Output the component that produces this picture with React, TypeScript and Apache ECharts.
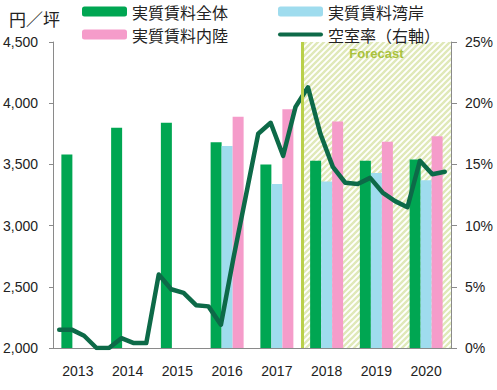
import React, { useEffect, useRef } from "react";
import * as echarts from "echarts";

const years = ["2013", "2014", "2015", "2016", "2017", "2018", "2019", "2020"];
const quarters = [
  "2013Q1","2013Q2","2013Q3","2013Q4","2014Q1","2014Q2","2014Q3","2014Q4",
  "2015Q1","2015Q2","2015Q3","2015Q4","2016Q1","2016Q2","2016Q3","2016Q4",
  "2017Q1","2017Q2","2017Q3","2017Q4","2018Q1","2018Q2","2018Q3","2018Q4",
  "2019Q1","2019Q2","2019Q3","2019Q4","2020Q1","2020Q2","2020Q3","2020Q4",
];
const rentAll = [3580, 3800, 3840, 3680, 3500, 3530, 3530, 3540];
const rentBay = [null, null, null, 3650, 3340, 3360, 3430, 3370];
const rentInland = [null, null, null, 3890, 3950, 3850, 3685, 3730];
const vacancy = [
  1.5, 1.5, 1.0, 0, 0, 0.8, 0.4, 0.4,
  6.0, 4.8, 4.5, 3.5, 3.4, 1.9, 7.3, 12.4,
  17.5, 18.4, 15.7, 19.7, 21.3, 17.5, 14.8, 13.5,
  13.4, 13.9, 12.7, 12.0, 11.5, 15.3, 14.2, 14.4,
];
const forecastStart = 5; // index of 2018
const forecastEnd = 8;

const NAME_ALL = "実質賃料全体";
const NAME_BAY = "実質賃料湾岸";
const NAME_IN = "実質賃料内陸";
const NAME_VAC = "空室率（右軸）";

const NUM_FONT = "'Liberation Sans', sans-serif";
const JP_FONT = "'Noto Sans CJK JP', sans-serif";

function makeHatch() {
  const s = 6;
  const c = document.createElement("canvas");
  c.width = s;
  c.height = s;
  const ctx = c.getContext("2d")!;
  ctx.fillStyle = "#ffffff";
  ctx.fillRect(0, 0, s, s);
  ctx.strokeStyle = "#e0e9b9";
  ctx.lineWidth = 2.4;
  ctx.beginPath();
  ctx.moveTo(-1, s + 1);
  ctx.lineTo(s + 1, -1);
  ctx.moveTo(-1, 1);
  ctx.lineTo(1, -1);
  ctx.moveTo(s - 1, s + 1);
  ctx.lineTo(s + 1, s - 1);
  ctx.stroke();
  return c;
}

export default function App() {
  const ref = useRef<HTMLDivElement>(null);
  useEffect(() => {
    const chart = echarts.init(ref.current!, null, { renderer: "svg" });
    const axisLine = { show: true, lineStyle: { color: "#8a8a8a", width: 1 } };
    const legendText = { fontFamily: JP_FONT, fontSize: 16, color: "#222", lineHeight: 17 };
    chart.setOption({
      animation: false,
      backgroundColor: "#ffffff",
      title: {
        text: "円／坪",
        left: 9,
        top: 10,
        padding: 0,
        textStyle: { fontFamily: JP_FONT, fontSize: 17, fontWeight: "normal", color: "#222" },
      },
      legend: [
        {
          data: [NAME_ALL, NAME_IN],
          orient: "vertical",
          left: 82,
          top: 3,
          padding: 0,
          itemWidth: 45,
          itemHeight: 10,
          itemGap: 6,
          selectedMode: false,
          textStyle: legendText,
        },
        {
          data: [
            { name: NAME_BAY },
            { name: NAME_VAC, icon: "path://M2,0 L43,0 A2,2 0 0 1 43,4 L2,4 A2,2 0 0 1 2,0 Z" },
          ],
          orient: "vertical",
          left: 278,
          top: 3,
          padding: 0,
          itemWidth: 45,
          itemHeight: 10,
          itemGap: 6,
          selectedMode: false,
          textStyle: legendText,
        },
      ],
      grid: { left: 53, right: 46, top: 42, bottom: 42, containLabel: false, outerBoundsMode: "none" },
      xAxis: [
        {
          type: "category",
          data: years,
          axisLine,
          axisTick: { show: false },
          axisLabel: { fontFamily: NUM_FONT, fontSize: 14, color: "#222", margin: 16 },
          splitLine: { show: false },
        },
        { type: "category", data: quarters, show: false, boundaryGap: true },
        { type: "value", min: 0, max: years.length, show: false },
      ],
      yAxis: [
        {
          type: "value",
          min: 2000,
          max: 4500,
          interval: 500,
          axisLine,
          axisTick: { show: true, inside: false, length: 4, lineStyle: { color: "#8a8a8a" } },
          axisLabel: {
            fontFamily: NUM_FONT,
            fontSize: 14,
            color: "#222",
            margin: 15,
            formatter: (v: number) => v.toLocaleString("en-US"),
          },
          splitLine: { show: false },
        },
        {
          type: "value",
          min: 0,
          max: 25,
          interval: 5,
          axisLine,
          axisTick: { show: true, inside: false, length: 6, lineStyle: { color: "#8a8a8a" } },
          axisLabel: { fontFamily: NUM_FONT, fontSize: 14, color: "#222", margin: 14, formatter: "{value}%" },
          splitLine: { show: false },
        },
      ],
      series: [
        {
          name: "forecast",
          type: "line",
          xAxisIndex: 2,
          yAxisIndex: 0,
          data: [],
          z: 1,
          silent: true,
          markArea: {
            silent: true,
            itemStyle: { color: { image: makeHatch(), repeat: "repeat" } },
            label: {
              show: true,
              position: "insideTop",
              distance: 5,
              formatter: "Forecast",
              fontFamily: NUM_FONT,
              fontWeight: "bold",
              fontSize: 13,
              color: "#a9c23c",
            },
            data: [[{ xAxis: forecastStart }, { xAxis: forecastEnd }]],
          },
          markLine: {
            silent: true,
            symbol: "none",
            label: { show: false },
            lineStyle: { color: "#b9d04a", width: 3, type: "solid" },
            data: [{ xAxis: forecastStart }],
          },
        },
        {
          name: NAME_ALL,
          type: "bar",
          data: rentAll,
          barWidth: 11,
          barGap: "0%",
          itemStyle: { color: "#00a652" },
          z: 2,
        },
        {
          name: NAME_BAY,
          type: "bar",
          data: rentBay,
          barWidth: 11,
          barGap: "0%",
          itemStyle: { color: "#9fdcee" },
          z: 2,
        },
        {
          name: NAME_IN,
          type: "bar",
          data: rentInland,
          barWidth: 11,
          barGap: "0%",
          itemStyle: { color: "#f59cca" },
          z: 2,
        },
        {
          name: NAME_VAC,
          type: "line",
          xAxisIndex: 1,
          yAxisIndex: 1,
          data: vacancy,
          showSymbol: false,
          symbol: "none",
          lineStyle: { color: "#0d6a48", width: 4.5, join: "round", cap: "round" },
          itemStyle: { color: "#0d6a48" },
          z: 4,
        },
      ],
    });
    return () => chart.dispose();
  }, []);
  return (
    <div
      ref={ref}
      style={{ position: "fixed", left: 0, top: 0, width: 497, height: 390 }}
    />
  );
}
